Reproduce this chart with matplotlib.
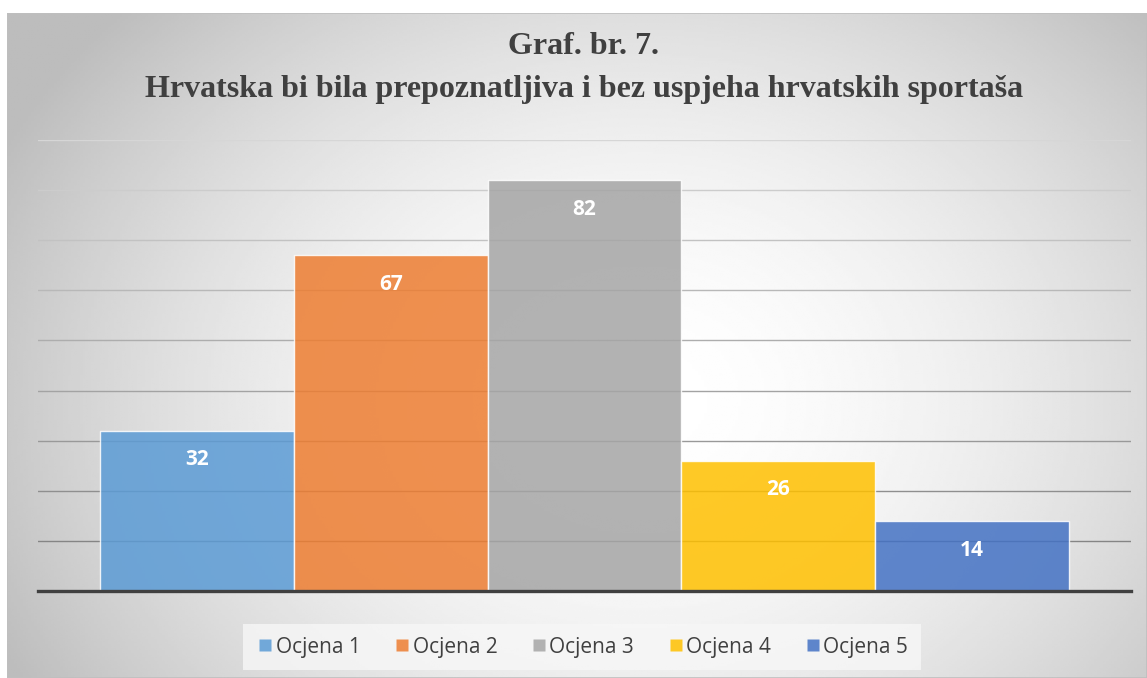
import numpy as np
import matplotlib
matplotlib.use("Agg")
import matplotlib.pyplot as plt
from matplotlib.patches import Rectangle
from matplotlib.lines import Line2D

series = ["Ocjena 1", "Ocjena 2", "Ocjena 3", "Ocjena 4", "Ocjena 5"]
values = [32, 67, 82, 26, 14]
colors = ["#5B9BD5", "#ED7D31", "#A5A5A5", "#FFC000", "#4472C4"]
title_1 = "Graf. br. 7."
title_2 = "Hrvatska bi bila prepoznatljiva i bez uspjeha hrvatskih sportaša"

W, H = 1147, 678
fig = plt.figure(figsize=(W / 100, H / 100), dpi=100)
fig.patch.set_facecolor("white")

# chart area with radial grey gradient
bg = fig.add_axes([7 / W, 0, 1 - 7 / W, 1 - 13 / H])
bg.set_axis_off()
gx, gy = np.meshgrid(np.linspace(7, W, 400), np.linspace(13, H, 300))
d = np.sqrt(((gx - 640) / 650) ** 2 + ((gy - 400) / 520) ** 2)
shade = 1 - 0.22 * np.clip(d, 0, 1.1) ** 1.8
bg.imshow(shade, cmap="gray", vmin=0, vmax=1, aspect="auto",
          extent=[0, 1, 0, 1], origin="upper", interpolation="bilinear")
bg.set_xlim(0, 1); bg.set_ylim(0, 1)
bg.add_patch(Rectangle((0, 0), 1, 1, transform=bg.transAxes, fill=False,
                       edgecolor="#bfbfbf", lw=1.2))

ax = fig.add_axes([38 / W, (H - 591) / H, (1131 - 38) / W, (591 - 140) / H])
ax.patch.set_alpha(0)
x = np.arange(len(values))
bars = ax.bar(x, values, width=1.0, color=colors, alpha=0.85,
              edgecolor=(1, 1, 1, 0.45), linewidth=1.0, zorder=3)
ax.set_xlim(-0.5 - 0.32, len(values) - 0.5 + 0.32)
ax.set_ylim(0, 90)
ax.set_yticks(np.arange(0, 91, 10))
ax.set_xticks([])
ax.tick_params(left=False, labelleft=False)
for s in ["top", "right", "left"]:
    ax.spines[s].set_visible(False)
ax.spines["bottom"].set_color("#404040")
ax.spines["bottom"].set_linewidth(2.4)
ax.spines["bottom"].set_zorder(5)

# gridlines, darker near the bottom
for v in np.arange(10, 91, 10):
    t = (v - 10) / 80
    c = (1 - t) * np.array([0.52, 0.52, 0.52]) + t * np.array([0.84, 0.84, 0.84])
    ax.axhline(v, color=c, lw=1.0, zorder=1)

for xi, v in zip(x, values):
    ax.annotate(str(v), (xi, v), xytext=(0, -21), textcoords="offset points",
                ha="center", va="center", color="white", fontsize=15,
                fontweight="bold", family="Open Sans", zorder=6)

fig.text(584 / W, 1 - 47 / H, title_1, ha="center", va="center",
         fontsize=23, fontweight="bold", family="Liberation Serif", color="#404040")
fig.text(584 / W, 1 - 89 / H, title_2, ha="center", va="center",
         fontsize=23, fontweight="bold", family="Liberation Serif", color="#404040")

handles = [Line2D([], [], marker="s", linestyle="none", markersize=8,
                  markerfacecolor=c, markeredgecolor="none", alpha=0.85)
           for c in colors]
leg = fig.legend(handles, series, loc="center", ncol=5,
                 bbox_to_anchor=((246 + 918) / 2 / W, 1 - 647 / H),
                 frameon=True, fancybox=False, handletextpad=0.05,
                 handlelength=0.9, columnspacing=1.55, borderpad=0.6,
                 borderaxespad=0, prop={"family": "Open Sans", "size": 15})
leg.get_frame().set_facecolor((0.97, 0.97, 0.97, 0.8))
leg.get_frame().set_edgecolor("none")
for t in leg.get_texts():
    t.set_color("#404040")

fig.savefig("out.png", dpi=100)
